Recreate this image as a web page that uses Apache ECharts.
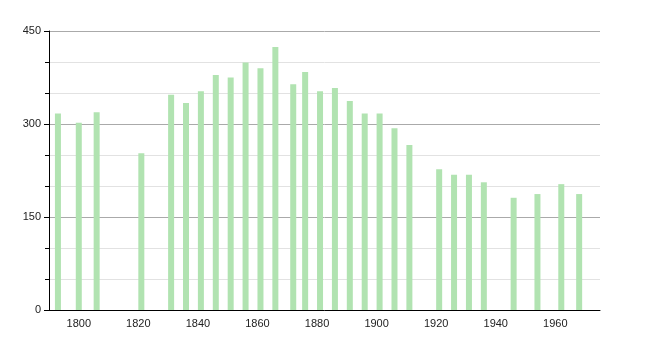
<!DOCTYPE html>
<html><head><meta charset="utf-8">
<script src="https://cdn.jsdelivr.net/npm/echarts@6/dist/echarts.min.js"></script>
<style>html,body{margin:0;padding:0;background:#fff}#c{width:650px;height:340px}</style>
</head><body><div id="c"></div>
<script>
const years = [1793,1800,1806,1821,1831,1836,1841,1846,1851,1856,1861,1866,1872,1876,1881,1886,1891,1896,1901,1906,1911,1921,1926,1931,1936,1946,1954,1962,1968];
const population = [317,302,319,253,347,334,353,379,375,399,390,424,364,384,353,358,337,317,317,293,266,227,218,218,206,181,187,203,187];
const yTicks = [0,150,300,450];

const chart = echarts.init(document.getElementById('c'), null, {renderer:'canvas'});
chart.setOption({
  animation:false,
  backgroundColor:'#fff',
  grid:{left:49,right:50,top:31,bottom:30,containLabel:false},
  xAxis:{
    type:'value', min:1790, max:1975, interval:10,
    axisLine:{show:true,lineStyle:{color:'#000',width:1}},
    axisTick:{show:false},
    splitLine:{show:false},
    axisLabel:{color:'#222',fontSize:11,fontFamily:'Liberation Sans, Arial, sans-serif',margin:8,
      showMinLabel:false,showMaxLabel:false,
      formatter:v=> (v%20===0 ? String(v) : '')}
  },
  yAxis:{
    type:'value', min:yTicks[0], max:yTicks[yTicks.length-1], interval:150,
    axisLine:{show:true,lineStyle:{color:'#000',width:1}},
    axisTick:{show:true,length:5,lineStyle:{color:'#000'}},
    minorTick:{show:true,splitNumber:3,length:4,lineStyle:{color:'#000'}},
    splitLine:{show:true,lineStyle:{color:'#aaaaaa',width:1}},
    minorSplitLine:{show:true,lineStyle:{color:'#e2e2e2',width:1}},
    axisLabel:{color:'#222',fontSize:11,fontFamily:'Liberation Sans, Arial, sans-serif',margin:8}
  },
  series:[{
    type:'bar',
    data: years.map((y,i)=>[y,population[i]]),
    barWidth:6,
    itemStyle:{color:'#b1e3b1'},
    silent:true
  }]
});
</script></body></html>
